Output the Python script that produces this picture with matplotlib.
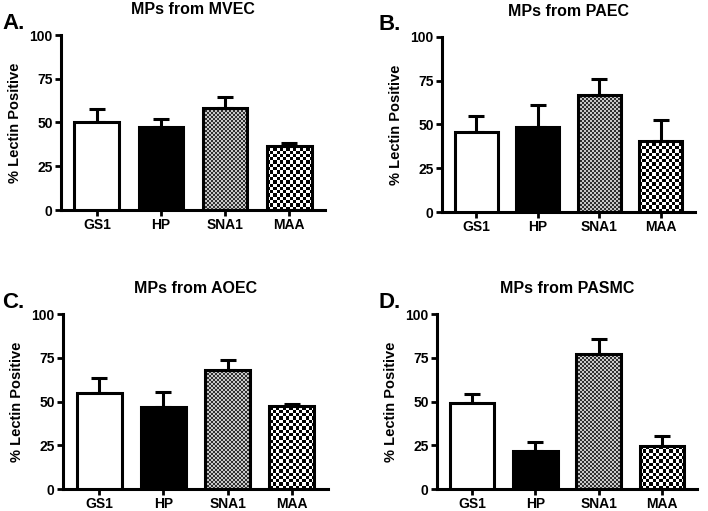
import numpy as np
import matplotlib
matplotlib.use('Agg')
import matplotlib.pyplot as plt

plt.rcParams['font.family'] = ['Liberation Sans', 'DejaVu Sans']
plt.rcParams['font.weight'] = 'bold'

# Dados
lectinas = ['GS1', 'HP', 'SNA1', 'MAA']
letras = ['A.', 'B.', 'C.', 'D.']
titulos = ['MPs from MVEC', 'MPs from PAEC', 'MPs from AOEC', 'MPs from PASMC']

media_mvec = [50.3, 47.6, 58.0, 36.7]
erro_mvec = [7.4, 4.4, 6.5, 1.3]
media_paec = [45.6, 48.8, 67.1, 40.8]
erro_paec = [9.4, 12.5, 8.9, 11.5]
media_aoec = [54.9, 46.9, 68.0, 47.2]
erro_aoec = [8.7, 8.5, 5.9, 1.2]
media_pasmc = [49.3, 21.9, 77.3, 24.8]
erro_pasmc = [5.2, 4.8, 8.4, 5.3]

medias = [media_mvec, media_paec, media_aoec, media_pasmc]
erros = [erro_mvec, erro_paec, erro_aoec, erro_pasmc]

W, H = 708, 511
# posição dos eixos em pixels: (esquerda, topo, direita, base)
caixas = [(61, 35, 325, 210), (442, 37, 695, 212),
          (63, 314, 328, 489), (437, 314, 697, 489)]

fig = plt.figure(figsize=(W / 100, H / 100), dpi=100)


def xadrez(ax, barra, celula_px, cor_a, cor_b):
    # preenche a barra com um xadrez (pcolormesh recortado pela barra)
    x0, y0 = barra.get_x(), barra.get_y()
    x1, y1 = x0 + barra.get_width(), y0 + barra.get_height()
    p0 = ax.transData.transform((x0, y0))
    p1 = ax.transData.transform((x1, y1))
    dx = celula_px * (x1 - x0) / (p1[0] - p0[0])
    dy = celula_px * (y1 - y0) / (p1[1] - p0[1])
    bx = np.append(np.arange(x0, x1, dx), x1)
    by = np.append(np.arange(y0, y1, dy), y1)
    ii, jj = np.indices((len(by) - 1, len(bx) - 1))
    padrao = ((ii + jj) % 2).astype(float)
    cmap = matplotlib.colors.ListedColormap([cor_a, cor_b])
    malha = ax.pcolormesh(bx, by, padrao, cmap=cmap, vmin=0, vmax=1,
                          antialiased=False, zorder=2)
    malha.set_clip_path(barra)


for k in range(4):
    l, t, r, b = caixas[k]
    ax = fig.add_axes([l / W, 1 - b / H, (r - l) / W, (b - t) / H])
    x = np.arange(len(lectinas))
    # limites fixados antes de desenhar o xadrez (usa transData)
    ax.set_xlim(-0.56, 3.56)
    ax.set_ylim(0, 100)

    barras = ax.bar(x, medias[k], width=0.7, color=['white', 'black', 'none', 'none'],
                    edgecolor='black', linewidth=2.2, zorder=3)
    xadrez(ax, barras[2], 2, '#303030', '#c8c8c8')
    xadrez(ax, barras[3], 3.3, 'black', 'white')

    ax.errorbar(x, medias[k], yerr=[np.zeros(4), erros[k]], fmt='none',
                ecolor='black', elinewidth=2.2, capsize=5.5, capthick=2.2, zorder=2.5)

    ax.set_xlim(-0.56, 3.56)
    ax.set_ylim(0, 100)
    ax.set_yticks([0, 25, 50, 75, 100])
    ax.set_xticks(x)
    ax.set_xticklabels(lectinas)
    for s in ['top', 'right']:
        ax.spines[s].set_visible(False)
    for s in ['left', 'bottom']:
        ax.spines[s].set_linewidth(2.2)
    ax.tick_params(axis='both', width=2.0, length=4.5, labelsize=10, pad=1.5)
    ax.set_ylabel('% Lectin Positive', fontsize=10.5, fontweight='bold', labelpad=5)
    ax.set_title(titulos[k], fontsize=11.5, fontweight='bold', pad=15)

    # letra do painel
    fig.text((2 if l < 300 else 378) / W, 1 - (t - 12) / H, letras[k],
             fontsize=16, fontweight='bold', va='center', ha='left')

fig.savefig('out.png', dpi=100)
